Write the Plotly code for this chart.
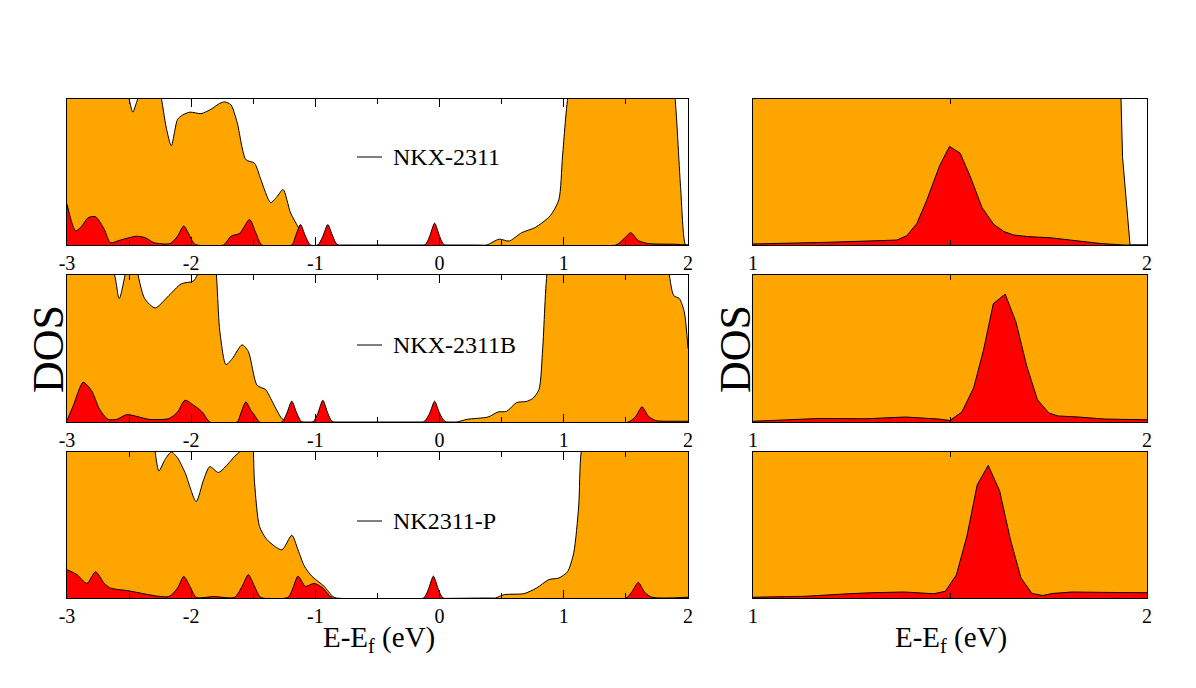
import plotly.graph_objects as go

# Energieachsen und DOS-Werte, linke Spalte: -3..2 eV
e_nkx_tot = [-3.0, -2.55, -2.50, -2.47, -2.43, -2.30, -2.25, -2.20, -2.16, -2.11, -2.07, -2.01, -1.92,
             -1.84, -1.77, -1.73, -1.68, -1.63, -1.56, -1.49, -1.44, -1.36, -1.31, -1.26, -1.20, -1.13,
             -1.05, -0.95, 0.30, 0.38, 0.48, 0.56, 0.66, 0.77, 0.89, 0.96, 0.99, 1.04, 1.10, 1.85, 1.89,
             1.94, 1.98, 2.0]
dos_nkx_tot = [12, 12, 10, 9.1, 10, 12, 10.5, 8.0, 6.8, 8.6, 8.9, 9.1, 9.0,
               9.3, 9.7, 9.8, 9.6, 8.4, 5.85, 5.6, 4.5, 2.9, 3.3, 3.8, 2.2, 1.1,
               0.0, 0.0, 0.0, 0.0, 0.4, 0.27, 0.84, 1.2, 2.0, 3.1, 6.1, 10.5, 12, 12, 10.5,
               4.0, 0.0, 0.0]
e_nkx_pd = [-3.0, -2.96, -2.93, -2.88, -2.83, -2.77, -2.70, -2.65, -2.57, -2.44, -2.37, -2.30, -2.17,
            -2.11, -2.06, -2.01, -1.97, -1.74, -1.68, -1.61, -1.53, -1.48, -1.43,
            -1.19, -1.16, -1.12, -1.08, -1.04,
            -0.98, -0.94, -0.90, -0.86, -0.82,
            -0.12, -0.08, -0.04, 0.00, 0.04,
            1.42, 1.48, 1.54, 1.60, 1.68, 1.90, 2.0]
dos_nkx_pd = [2.8, 1.5, 0.96, 1.3, 1.87, 1.94, 1.07, 0.16, 0.34, 0.6, 0.5, 0.16, 0.1,
              0.6, 1.3, 0.6, 0.05, 0.0, 0.6, 0.8, 1.75, 0.84, 0.0,
              0.0, 0.6, 1.4, 0.6, 0.0,
              0.0, 0.6, 1.4, 0.6, 0.0,
              0.0, 0.6, 1.5, 0.6, 0.0,
              0.0, 0.4, 0.84, 0.3, 0.1, 0.05, 0.0]

e_nkxb_tot = [-3.0, -2.64, -2.58, -2.52, -2.47, -2.44, -2.375, -2.29, -2.18, -2.08, -1.98, -1.93, -1.88,
              -1.83, -1.77, -1.72, -1.67, -1.59, -1.54, -1.47, -1.40, -1.36, -1.27, -1.22, -1.1, 0.10,
              0.14, 0.22, 0.39, 0.47, 0.54, 0.62, 0.70, 0.75, 0.80, 0.83, 0.87, 0.92, 1.80, 1.84, 1.885,
              1.93, 1.97, 2.0]
dos_nkxb_tot = [12, 10.5, 8.4, 10.5, 12, 10.5, 8.4, 7.76, 8.6, 9.4, 9.6, 10.5, 12,
                12, 6.2, 3.9, 4.3, 5.25, 4.8, 2.5, 2.2, 1.6, 0.23, 0.0, 0.0, 0.0,
                0.0, 0.18, 0.34, 0.68, 0.73, 1.32, 1.4, 1.6, 2.2, 5.0, 10.5, 12, 12, 10.5, 8.6,
                8.4, 7.5, 5.0]
e_nkxb_pd = [-3.0, -2.95, -2.87, -2.80, -2.74, -2.67, -2.60, -2.52, -2.42, -2.34, -2.18, -2.11, -2.05,
             -1.98, -1.91, -1.85, -1.63, -1.60, -1.56, -1.52, -1.49, -1.45,
             -1.27, -1.23, -1.19, -1.15, -1.11,
             -1.02, -0.98, -0.94, -0.90, -0.86,
             -0.13, -0.08, -0.04, 0.00, 0.05,
             1.52, 1.58, 1.63, 1.68, 1.74, 1.90, 2.0]
dos_nkxb_pd = [0.1, 1.1, 2.7, 2.1, 0.9, 0.18, 0.18, 0.5, 0.34, 0.18, 0.23, 0.68, 1.48,
               1.14, 0.68, 0.0, 0.0, 0.6, 1.37, 0.8, 0.46, 0.0,
               0.0, 0.6, 1.42, 0.6, 0.0,
               0.0, 0.6, 1.48, 0.6, 0.0,
               0.0, 0.6, 1.42, 0.6, 0.0,
               0.0, 0.4, 1.03, 0.4, 0.1, 0.05, 0.05]

e_nkp_tot = [-3.0, -2.35, -2.30, -2.26, -2.21, -2.16, -2.11, -2.05, -1.96, -1.90, -1.85, -1.78, -1.65,
             -1.58, -1.55, -1.52, -1.49, -1.45, -1.39, -1.27, -1.19, -1.14, -1.09, -1.03, -0.93, -0.86,
             -0.83, 0.40, 0.45, 0.52, 0.68, 0.78, 0.88, 0.96, 1.03, 1.08, 1.12, 1.14, 1.2, 2.0]
dos_nkp_tot = [12, 12, 10.5, 8.7, 9.5, 10, 9.6, 8.6, 6.6, 8.1, 9.0, 8.6, 9.7,
               10.3, 12, 12, 7.9, 4.9, 4.0, 3.3, 4.3, 3.3, 2.2, 1.5, 0.8, 0.1,
               0.0, 0.0, 0.0, 0.23, 0.3, 0.68, 1.26, 1.37, 1.8, 3.1, 6.3, 10, 12, 12]
e_nkp_pd = [-3.0, -2.92, -2.84, -2.77, -2.70, -2.65, -2.51, -2.18, -2.11, -2.06, -2.01, -1.96, -1.82,
            -1.65, -1.59, -1.54, -1.49, -1.44, -1.22, -1.18, -1.14, -1.08, -1.01, -0.94, -0.86,
            -0.13, -0.09, -0.05, -0.01, 0.03,
            1.50, 1.55, 1.60, 1.65, 1.71, 2.0]
dos_nkp_pd = [1.94, 1.6, 1.0, 1.8, 1.0, 0.68, 0.5, 0.1, 0.68, 1.48, 0.8, 0.05, 0.1,
              0.05, 0.8, 1.6, 0.8, 0.05, 0.05, 0.7, 1.5, 0.8, 1.0, 0.68, 0.0,
              0.0, 0.6, 1.5, 0.6, 0.0,
              0.0, 0.45, 1.07, 0.4, 0.05, 0.05]

# rechte Spalte: Ausschnitt 1..2 eV
ez_nkx_tot = [1.0, 1.932, 1.938, 1.957, 2.0]
dz_nkx_tot = [12, 12, 6.0, 0.0, 0.0]
ez_nkx_pd = [1.0, 1.085, 1.195, 1.289, 1.365, 1.39, 1.416, 1.441, 1.474, 1.499, 1.526, 1.552, 1.581,
             1.611, 1.637, 1.662, 1.696, 1.756, 1.815, 1.883, 1.942, 2.0]
dz_nkx_pd = [0.07, 0.1, 0.19, 0.27, 0.34, 0.63, 1.48, 3.07, 5.45, 6.76, 6.28, 4.65, 2.58,
             1.41, 0.92, 0.68, 0.58, 0.49, 0.29, 0.1, 0.0, 0.0]

ez_nkxb_tot = [1.0, 2.0]
dz_nkxb_tot = [12, 12]
ez_nkxb_pd = [1.0, 1.168, 1.286, 1.387, 1.471, 1.5, 1.53, 1.56, 1.585, 1.61, 1.64, 1.667, 1.695,
              1.722, 1.751, 1.774, 1.825, 1.892, 2.0]
dz_nkxb_pd = [0.05, 0.24, 0.22, 0.34, 0.2, 0.1, 0.68, 2.32, 4.88, 8.05, 8.7, 6.83, 3.78,
              1.51, 0.61, 0.41, 0.34, 0.2, 0.15]

ez_nkp_tot = [1.0, 2.0]
dz_nkp_tot = [12, 12]
ez_nkp_pd = [1.0, 1.134, 1.242, 1.3, 1.384, 1.459, 1.488, 1.516, 1.543, 1.569, 1.597, 1.626, 1.653,
             1.68, 1.708, 1.735, 1.76, 1.81, 1.868, 1.935, 2.0]
dz_nkp_pd = [0.05, 0.12, 0.29, 0.36, 0.41, 0.29, 0.46, 1.57, 4.24, 7.75, 9.08, 7.34, 4.04,
             1.38, 0.31, 0.17, 0.31, 0.41, 0.39, 0.36, 0.36]

namen = ['NKX-2311', 'NKX-2311B', 'NK2311-P']
ticks_links = [-3, -2, -1, 0, 1, 2]
ticks_rechts = [1, 2]

ORANGE = '#FFA500'
ROT = '#FF0000'
FONT = 'Liberation Serif'

links = [(e_nkx_tot, dos_nkx_tot, e_nkx_pd, dos_nkx_pd),
         (e_nkxb_tot, dos_nkxb_tot, e_nkxb_pd, dos_nkxb_pd),
         (e_nkp_tot, dos_nkp_tot, e_nkp_pd, dos_nkp_pd)]
rechts = [(ez_nkx_tot, dz_nkx_tot, ez_nkx_pd, dz_nkx_pd),
          (ez_nkxb_tot, dz_nkxb_tot, ez_nkxb_pd, dz_nkxb_pd),
          (ez_nkp_tot, dz_nkp_tot, ez_nkp_pd, dz_nkp_pd)]

W, H = 1196, 688
RAND = 8  # Seitenrand des Browsers (body margin)
# Panelgrenzen in Pixeln (oben, unten)
reihen = [(99, 245), (275, 422), (452, 598)]
x_links = (67, 688)
x_rechts = (753, 1147)


def px_x(p):
    return (p - RAND) / W


def px_y(p):
    return 1 - (p - RAND) / H


fig = go.Figure()
layout = dict(width=W, height=H, margin=dict(l=0, r=0, t=0, b=0, autoexpand=False),
              plot_bgcolor='white', paper_bgcolor='white', showlegend=False,
              font=dict(family=FONT, color='black'))

shapes = []
annotations = []

for i in range(3):
    oben, unten = reihen[i]
    for j, (daten, xr, glatt) in enumerate([(links[i], x_links, True), (rechts[i], x_rechts, False)]):
        n = i * 2 + j + 1
        xa = 'x' if n == 1 else 'x%d' % n
        ya = 'y' if n == 1 else 'y%d' % n
        e_t, d_t, e_p, d_p = daten
        form = 'spline' if glatt else 'linear'
        fig.add_trace(go.Scatter(x=e_t, y=d_t, mode='lines', fill='tozeroy', fillcolor=ORANGE,
                                 line=dict(color='black', width=1, shape=form, smoothing=0.7),
                                 xaxis=xa, yaxis=ya))
        fig.add_trace(go.Scatter(x=e_p, y=d_p, mode='lines', fill='tozeroy', fillcolor=ROT,
                                 line=dict(color='black', width=1, shape=form, smoothing=0.7),
                                 xaxis=xa, yaxis=ya))
        xkey = 'xaxis' if n == 1 else 'xaxis%d' % n
        ykey = 'yaxis' if n == 1 else 'yaxis%d' % n
        if glatt:
            rng, tv = [-3, 2], ticks_links
        else:
            rng, tv = [1, 2], ticks_rechts
        layout[xkey] = dict(domain=[px_x(xr[0]), px_x(xr[1])], range=rng, anchor=ya,
                            tickvals=tv, ticktext=[str(t) for t in tv],
                            ticks='inside', ticklen=8, tickcolor='black',
                            showline=True, linecolor='black', linewidth=1, mirror='allticks',
                            showgrid=False, zeroline=False, automargin=False,
                            tickfont=dict(family=FONT, size=20, color='black'),
                            minor=dict(dtick=0.5, tick0=0, ticks='inside', ticklen=5,
                                       tickcolor='black'))
        layout[ykey] = dict(domain=[px_y(unten), px_y(oben)], range=[0, 10], anchor=xa,
                            showticklabels=False, ticks='', showgrid=False, zeroline=False,
                            automargin=False,
                            showline=True, linecolor='black', linewidth=1, mirror=True)

    # Legende links
    ly = [157, 345, 521][i]
    shapes.append(dict(type='line', xref='paper', yref='paper',
                       x0=px_x(357), x1=px_x(382), y0=px_y(ly), y1=px_y(ly),
                       line=dict(color='black', width=1)))
    annotations.append(dict(text=namen[i], xref='paper', yref='paper', x=px_x(391), y=px_y(ly),
                            xanchor='left', yanchor='middle', showarrow=False,
                            font=dict(family=FONT, size=24, color='black')))

for xp in (48, 735):
    annotations.append(dict(text='DOS', xref='paper', yref='paper', x=px_x(xp), y=px_y(349),
                            textangle=-90, showarrow=False, xanchor='center', yanchor='middle',
                            font=dict(family=FONT, size=44, color='black')))

for xp in (379, 951):
    annotations.append(dict(text='E-E<sub>f</sub> (eV)', xref='paper', yref='paper',
                            x=px_x(xp), y=px_y(639), showarrow=False,
                            xanchor='center', yanchor='middle',
                            font=dict(family=FONT, size=29, color='black')))

layout['shapes'] = shapes
layout['annotations'] = annotations
fig.update_layout(**layout)

fig.write_html("out.html")
